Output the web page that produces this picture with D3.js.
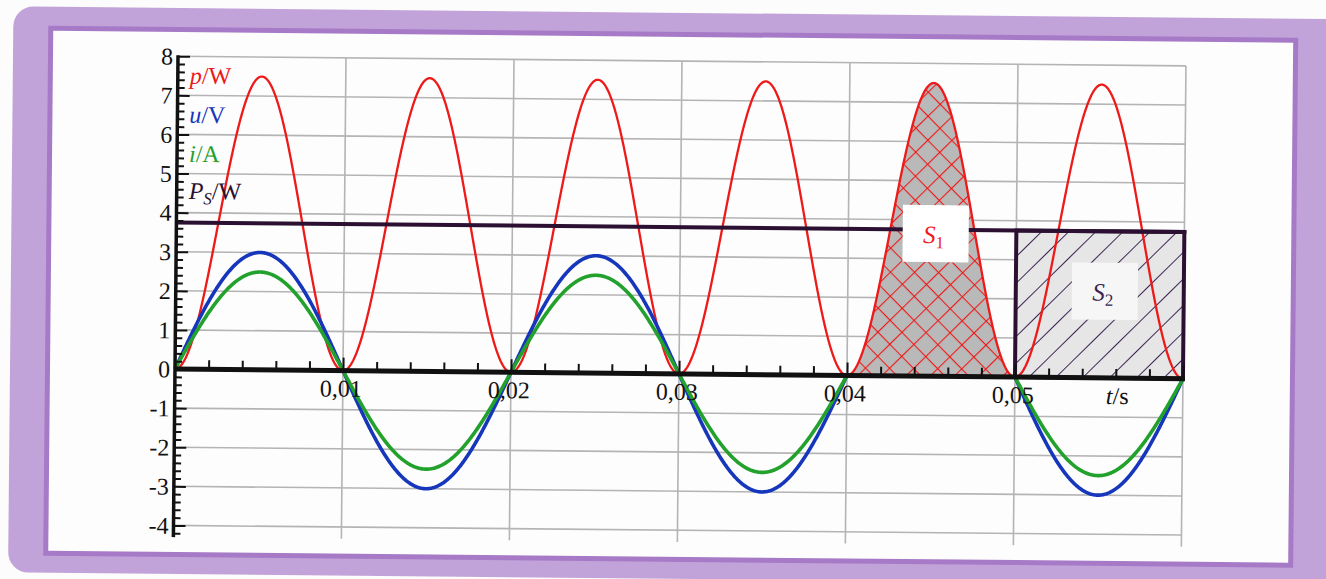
<!DOCTYPE html>
<html>
<head>
<meta charset="utf-8">
<script src="https://cdn.jsdelivr.net/npm/d3@7"></script>
<style>
  html, body { margin: 0; padding: 0; background: #fcfcfc; }
  svg { display: block; }
  text { font-family: "Liberation Serif", "Times New Roman", "DejaVu Serif", serif; }
</style>
</head>
<body>
<svg id="chart" width="1326" height="579"></svg>
<script>
// Series drawn: instantaneous power p, voltage u, current i and mean power P_S
const seriesKeys   = ["p", "u", "i", "Ps"];
const seriesColors = ["#ee1a1a", "#1636bb", "#22a12c", "#2b1032"];
const amplitudes   = [7.5, 3, 2.5, 3.75];   // peak p (W), peak u (V), peak i (A), mean power P_S (W)
const frequency    = 50;                     // Hz
const timeDomain   = [0, 0.06];              // s
const valueDomain  = [-4.3, 8];

const xTickValues  = [0.01, 0.02, 0.03, 0.04, 0.05];
const xTickLabels  = ["0,01", "0,02", "0,03", "0,04", "0,05"];
const yTickValues  = [8, 7, 6, 5, 4, 3, 2, 1, 0, -1, -2, -3, -4];
const yTickLabels  = ["8", "7", "6", "5", "4", "3", "2", "1", "0", "-1", "-2", "-3", "-4"];

// Shaded areas: S1 under one power pulse, S2 the rectangle P_S × one pulse period
const areaS1 = [0.04, 0.05];
const areaS2 = [0.05, 0.06];

const svg = d3.select("#chart");
const x = d3.scaleLinear().domain([0, 0.06]).range([175, 1183]);
const y = d3.scaleLinear().domain([0, 8]).range([369, 56.2]);

const [pMax, uMax, iMax, Ps] = amplitudes;
const w = 2 * Math.PI * frequency;
const fns = {
  p: t => pMax * Math.pow(Math.sin(w * t), 2),
  u: t => uMax * Math.sin(w * t),
  i: t => iMax * Math.sin(w * t)
};
const samples = d3.range(timeDomain[0], timeDomain[1] + 1e-9, 0.00004);
// u and i are left out under the S1 pulse so the shaded area stays clear
const inS1 = t => t > areaS1[0] + 1e-9 && t < areaS1[1] - 1e-9;

// whole printed figure sits slightly rotated on the page
const root = svg.append("g").attr("transform", "rotate(0.55,175,369)");

// ---- frame ----
root.append("rect").attr("x", 10).attr("y", 8).attr("width", 1380).attr("height", 566)
  .attr("rx", 20).attr("fill", "#c2a3d9");
root.append("rect").attr("x", 45).attr("y", 27).attr("width", 1250).attr("height", 530)
  .attr("fill", "#a67ac6");
root.append("rect").attr("x", 50).attr("y", 32).attr("width", 1240).attr("height", 520)
  .attr("fill", "#fdfdfd");

// ---- patterns ----
const defs = svg.append("defs");
const cross = defs.append("pattern").attr("id", "crossRed")
  .attr("patternUnits", "userSpaceOnUse").attr("width", 17).attr("height", 17)
  .attr("patternTransform", "rotate(45)");
cross.append("rect").attr("width", 17).attr("height", 17).attr("fill", "#b9b9b9");
cross.append("line").attr("x1", 0).attr("y1", 0).attr("x2", 17).attr("y2", 0)
  .attr("stroke", "#ee1a1a").attr("stroke-width", 2.2);
cross.append("line").attr("x1", 0).attr("y1", 0).attr("x2", 0).attr("y2", 17)
  .attr("stroke", "#ee1a1a").attr("stroke-width", 2.2);

const hatch = defs.append("pattern").attr("id", "hatchDark")
  .attr("patternUnits", "userSpaceOnUse").attr("width", 19).attr("height", 19)
  .attr("patternTransform", "rotate(45)");
hatch.append("rect").attr("width", 19).attr("height", 19).attr("fill", "#e6e6e6");
hatch.append("line").attr("x1", 0).attr("y1", 0).attr("x2", 0).attr("y2", 19)
  .attr("stroke", "#3c2452").attr("stroke-width", 2);

// ---- grid ----
const grid = root.append("g").attr("stroke", "#b4b4b4").attr("stroke-width", 1.6);
grid.selectAll("line.h").data(yTickValues).join("line")
  .attr("x1", x(0)).attr("x2", x(0.06)).attr("y1", d => y(d)).attr("y2", d => y(d));
grid.selectAll("line.v").data([0.01, 0.02, 0.03, 0.04, 0.05, 0.06]).join("line")
  .attr("x1", d => x(d)).attr("x2", d => x(d)).attr("y1", y(8)).attr("y2", y(valueDomain[0]));

// ---- S1 area under p ----
const s1Samples = samples.filter(t => t >= areaS1[0] - 1e-9 && t <= areaS1[1] + 1e-9);
root.append("path").datum(s1Samples)
  .attr("d", d3.area().x(t => x(t)).y0(y(0)).y1(t => y(fns.p(t))))
  .attr("fill", "url(#crossRed)");

// ---- S2 rectangle fill ----
root.append("rect")
  .attr("x", x(areaS2[0])).attr("y", y(Ps))
  .attr("width", x(areaS2[1]) - x(areaS2[0])).attr("height", y(0) - y(Ps))
  .attr("fill", "url(#hatchDark)");

// ---- curves ----
const line = key => d3.line().x(t => x(t)).y(t => y(fns[key](t)));
const lineGap = key => line(key).defined(t => !inS1(t));
root.append("path").datum(samples).attr("d", line("p"))
  .attr("fill", "none").attr("stroke", seriesColors[0]).attr("stroke-width", 2.3);
root.append("path").datum(samples).attr("d", lineGap("u"))
  .attr("fill", "none").attr("stroke", seriesColors[1]).attr("stroke-width", 3.6);
root.append("path").datum(samples).attr("d", lineGap("i"))
  .attr("fill", "none").attr("stroke", seriesColors[2]).attr("stroke-width", 3.6);

// ---- mean power line and S2 border ----
root.append("line").attr("x1", x(0)).attr("x2", x(0.06) + 2).attr("y1", y(Ps)).attr("y2", y(Ps))
  .attr("stroke", seriesColors[3]).attr("stroke-width", 4);
root.append("rect")
  .attr("x", x(areaS2[0])).attr("y", y(Ps))
  .attr("width", x(areaS2[1]) - x(areaS2[0])).attr("height", y(0) - y(Ps))
  .attr("fill", "none").attr("stroke", seriesColors[3]).attr("stroke-width", 4);

// ---- axes ----
const yAxis = d3.axisRight(y).tickValues(d3.range(-4.2, 8.01, 0.2).map(v => +v.toFixed(1)))
  .tickSize(7).tickFormat("");
const yAx = root.append("g").attr("transform", `translate(${x(0)},0)`).call(yAxis);
yAx.select(".domain").remove();
yAx.selectAll(".tick line").attr("stroke", "#111").attr("stroke-width", 2)
  .attr("x2", d => Math.abs(d - Math.round(d)) < 1e-6 ? 12 : 7);
root.append("line").attr("x1", x(0)).attr("x2", x(0)).attr("y1", y(8) - 1).attr("y2", y(valueDomain[0]))
  .attr("stroke", "#111").attr("stroke-width", 3.5);

const xAxis = d3.axisTop(x).tickValues(d3.range(0.002, 0.0601, 0.002).map(v => +v.toFixed(3)))
  .tickSize(9).tickFormat("");
const xAx = root.append("g").attr("transform", `translate(0,${y(0)})`).call(xAxis);
xAx.select(".domain").remove();
xAx.selectAll(".tick line").attr("stroke", "#111").attr("stroke-width", 2)
  .attr("y2", d => Math.abs(d * 100 - Math.round(d * 100)) < 1e-6 ? -13 : -9);
root.append("line").attr("x1", x(0)).attr("x2", x(0.06) + 2).attr("y1", y(0)).attr("y2", y(0))
  .attr("stroke", "#111").attr("stroke-width", 5);

// tick labels
root.append("g").selectAll("text").data(yTickValues).join("text")
  .attr("x", x(0) - 5).attr("y", d => y(d)).attr("dy", "0.35em")
  .attr("text-anchor", "end").attr("font-size", 24).attr("fill", "#111")
  .text((d, k) => yTickLabels[k]);
root.append("g").selectAll("text").data(xTickValues).join("text")
  .attr("x", d => x(d) - 2).attr("y", y(0) + 26)
  .attr("text-anchor", "middle").attr("font-size", 24).attr("fill", "#111")
  .text((d, k) => xTickLabels[k]);
const tLabel = root.append("text").attr("x", x(0.0561)).attr("y", y(0) + 26)
  .attr("text-anchor", "middle").attr("font-size", 24).attr("fill", "#111");
tLabel.append("tspan").attr("font-style", "italic").text("t");
tLabel.append("tspan").text("/s");

// ---- legend ----
const legend = [
  { sym: "p", sub: null, unit: "/W", color: seriesColors[0], yv: 7.3 },
  { sym: "u", sub: null, unit: "/V", color: seriesColors[1], yv: 6.3 },
  { sym: "i", sub: null, unit: "/A", color: seriesColors[2], yv: 5.3 },
  { sym: "P", sub: "S", unit: "/W", color: seriesColors[3], yv: 4.35 }
];
legend.forEach(l => {
  const t = root.append("text").attr("x", 187).attr("y", y(l.yv))
    .attr("font-size", 24).attr("fill", l.color);
  t.append("tspan").attr("font-style", "italic").text(l.sym);
  if (l.sub) t.append("tspan").attr("font-style", "italic").attr("font-size", 17).attr("dy", 5).text(l.sub);
  t.append("tspan").attr("dy", l.sub ? -5 : 0).text(l.unit);
});

// ---- area labels ----
const areaLabels = [
  { name: "S", index: "1", tc: 0.0452, vc: 3.66, color: seriesColors[0], box: "#ffffff" },
  { name: "S", index: "2", tc: 0.0553, vc: 2.23, color: "#3c2452", box: "#f6f6f6" }
];
areaLabels.forEach(a => {
  root.append("rect").attr("x", x(a.tc) - 33).attr("y", y(a.vc) - 28)
    .attr("width", 66).attr("height", 57).attr("fill", a.box);
  const t = root.append("text").attr("x", x(a.tc) - 2).attr("y", y(a.vc) + 10)
    .attr("text-anchor", "middle").attr("font-size", 25).attr("fill", a.color);
  t.append("tspan").attr("font-style", "italic").text(a.name);
  t.append("tspan").attr("font-size", 17).attr("dy", 5).text(a.index);
});
</script>
</body>
</html>
